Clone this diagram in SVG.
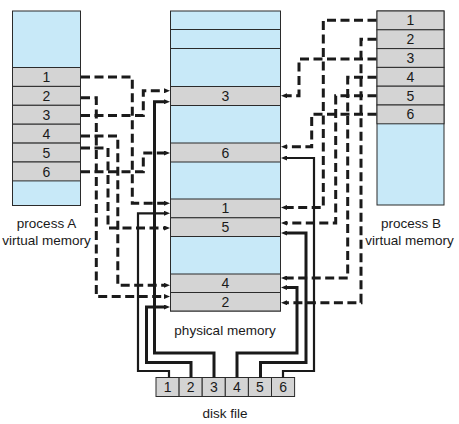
<svg xmlns="http://www.w3.org/2000/svg" width="459" height="424" viewBox="0 0 459 424">
<style>
.blue{fill:#c8e9f8;stroke:#2b2b2b;stroke-width:1}
.gray{fill:#d4d4d4;stroke:#2b2b2b;stroke-width:1}
.sep{stroke:#2b2b2b;stroke-width:1}
.num{font-family:"Liberation Sans",Arial,sans-serif;font-size:14px;fill:#1a1a1a;text-anchor:middle}
.lbl{font-family:"Liberation Sans",Arial,sans-serif;font-size:13.5px;fill:#1a1a1a;text-anchor:middle}
.dash{fill:none;stroke:#1a1a1a;stroke-width:3;stroke-dasharray:9 4.5}
.solid{fill:none;stroke:#1a1a1a;stroke-width:3}
.thin{fill:none;stroke:#1a1a1a;stroke-width:2.2}
</style>
<defs>
<marker id="arr" viewBox="0 0 6 5" refX="0" refY="2.5" markerWidth="6" markerHeight="5" markerUnits="userSpaceOnUse" orient="auto">
<path d="M0,0 L6,2.5 L0,5 z" fill="#1a1a1a"/>
</marker>
</defs>
<rect width="459" height="424" fill="#ffffff"/>

<g id="processA">
<rect class="blue" x="12.5" y="11" width="68" height="194.5"/>
<rect class="gray" x="12.5" y="67.5" width="68" height="18.9"/>
<rect class="gray" x="12.5" y="86.4" width="68" height="18.9"/>
<rect class="gray" x="12.5" y="105.3" width="68" height="18.9"/>
<rect class="gray" x="12.5" y="124.2" width="68" height="18.9"/>
<rect class="gray" x="12.5" y="143.1" width="68" height="18.9"/>
<rect class="gray" x="12.5" y="162" width="68" height="18.9"/>
<text class="num" x="46.5" y="82">1</text>
<text class="num" x="46.5" y="100.9">2</text>
<text class="num" x="46.5" y="119.8">3</text>
<text class="num" x="46.5" y="138.7">4</text>
<text class="num" x="46.5" y="157.6">5</text>
<text class="num" x="46.5" y="176.5">6</text>
<text class="lbl" x="46.5" y="228">process A</text>
<text class="lbl" x="46.5" y="244.5">virtual memory</text>
</g>

<g id="physical">
<rect class="blue" x="170.5" y="11" width="110" height="300"/>
<line class="sep" x1="170.5" y1="29.5" x2="280.5" y2="29.5"/>
<line class="sep" x1="170.5" y1="48.5" x2="280.5" y2="48.5"/>
<rect class="gray" x="170.5" y="86.5" width="110" height="19"/>
<rect class="gray" x="170.5" y="143" width="110" height="19"/>
<rect class="gray" x="170.5" y="199" width="110" height="18.8"/>
<rect class="gray" x="170.5" y="217.8" width="110" height="18.7"/>
<rect class="gray" x="170.5" y="274" width="110" height="18.5"/>
<rect class="gray" x="170.5" y="292.5" width="110" height="18.5"/>
<text class="num" x="225.5" y="101">3</text>
<text class="num" x="225.5" y="157.5">6</text>
<text class="num" x="225.5" y="213.4">1</text>
<text class="num" x="225.5" y="232.1">5</text>
<text class="num" x="225.5" y="288.3">4</text>
<text class="num" x="225.5" y="306.8">2</text>
<text class="lbl" x="225" y="334.5">physical memory</text>
</g>

<g id="processB">
<rect class="blue" x="377" y="11" width="67" height="194"/>
<rect class="gray" x="377" y="11" width="67" height="18.8"/>
<rect class="gray" x="377" y="29.8" width="67" height="18.8"/>
<rect class="gray" x="377" y="48.6" width="67" height="18.8"/>
<rect class="gray" x="377" y="67.4" width="67" height="18.8"/>
<rect class="gray" x="377" y="86.2" width="67" height="18.8"/>
<rect class="gray" x="377" y="105" width="67" height="18.8"/>
<text class="num" x="410.5" y="25.4">1</text>
<text class="num" x="410.5" y="44.2">2</text>
<text class="num" x="410.5" y="63">3</text>
<text class="num" x="410.5" y="81.8">4</text>
<text class="num" x="410.5" y="100.6">5</text>
<text class="num" x="410.5" y="119.4">6</text>
<text class="lbl" x="411" y="228">process B</text>
<text class="lbl" x="409.5" y="244.5">virtual memory</text>
</g>

<g id="diskfile">
<rect class="gray" x="156" y="377.5" width="23.1" height="19"/>
<rect class="gray" x="179.1" y="377.5" width="23.1" height="19"/>
<rect class="gray" x="202.2" y="377.5" width="23.1" height="19"/>
<rect class="gray" x="225.3" y="377.5" width="23.1" height="19"/>
<rect class="gray" x="248.4" y="377.5" width="23.1" height="19"/>
<rect class="gray" x="271.5" y="377.5" width="23.1" height="19"/>
<text class="num" x="167.6" y="392">1</text>
<text class="num" x="190.7" y="392">2</text>
<text class="num" x="213.8" y="392">3</text>
<text class="num" x="236.9" y="392">4</text>
<text class="num" x="260" y="392">5</text>
<text class="num" x="283.1" y="392">6</text>
<text class="lbl" x="225" y="417.5">disk file</text>
</g>

<g id="connectors">
<!-- process A to physical -->
<path class="dash" marker-end="url(#arr)" d="M81,77 H132.3 V203.3 H164"/>
<path class="dash" marker-end="url(#arr)" d="M81,97.7 H96.3 V296.5 H164"/>
<path class="dash" marker-end="url(#arr)" d="M81,115.5 H143.3 V90.8 H164"/>
<path class="dash" marker-end="url(#arr)" d="M81,136 H117.8 V285.3 H164"/>
<path class="dash" marker-end="url(#arr)" d="M81,148 H108 V228 H164"/>
<path class="dash" marker-end="url(#arr)" d="M81,171.7 H143.3 V153 H164"/>
<!-- process B to physical -->
<path class="dash" marker-end="url(#arr)" d="M376.5,20.3 H323.3 V207.5 H287"/>
<path class="dash" marker-end="url(#arr)" d="M376.5,39.3 H361 V302.7 H287"/>
<path class="dash" marker-end="url(#arr)" d="M376.5,59 H299 V95.7 H287"/>
<path class="dash" marker-end="url(#arr)" d="M376.5,77.3 H347.7 V278 H287"/>
<path class="dash" marker-end="url(#arr)" d="M376.5,95.7 H335.7 V223 H287"/>
<path class="dash" marker-end="url(#arr)" d="M376.5,114.3 H311.7 V146.7 H287"/>
<!-- disk file to physical -->
<path class="thin" marker-end="url(#arr)" d="M169,377.5 V371 H138 V213.3 H164"/>
<path class="solid" marker-end="url(#arr)" d="M191,377.5 V362.5 H146.5 V307 H164"/>
<path class="solid" marker-end="url(#arr)" d="M214,377.5 V353 H154.5 V101.7 H164"/>
<path class="solid" marker-end="url(#arr)" d="M237,377.5 V353 H297 V287.5 H287"/>
<path class="solid" marker-end="url(#arr)" d="M260.5,377.5 V362.5 H306 V233 H287"/>
<path class="thin" marker-end="url(#arr)" d="M283,377.5 V371 H314 V158 H287"/>
</g>
</svg>
